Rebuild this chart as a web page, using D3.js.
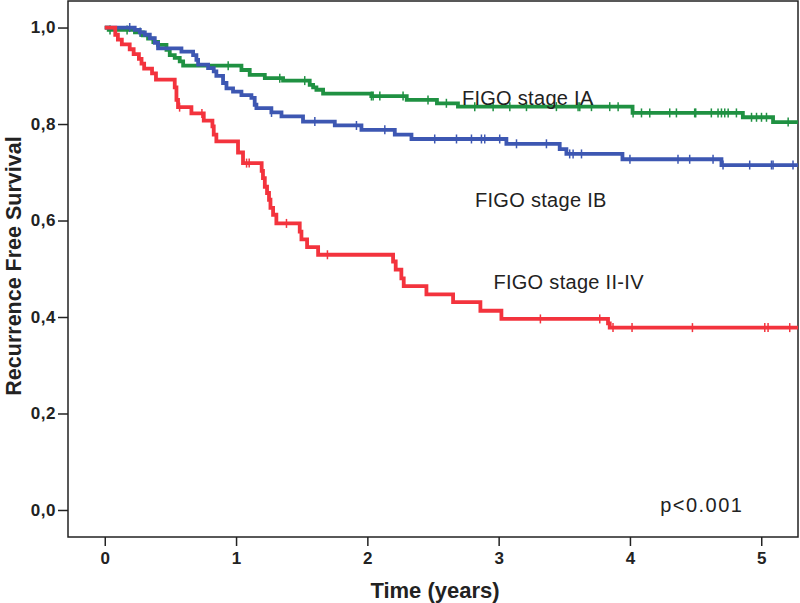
<!DOCTYPE html>
<html><head><meta charset="utf-8">
<script src="https://cdn.jsdelivr.net/npm/d3@7"></script>
<style>
body{margin:0;background:#fff;}
svg{display:block;font-family:"Liberation Sans",Arial,sans-serif;}
</style></head>
<body><svg id="c" width="800" height="603"></svg>
<script>
// ---- data ----
const yTicks = [0, 0.2, 0.4, 0.6, 0.8, 1.0];
const yTickLabels = ["0,0", "0,2", "0,4", "0,6", "0,8", "1,0"];
const xTicks = [0, 1, 2, 3, 4, 5];
const xTickLabels = ["0", "1", "2", "3", "4", "5"];
const endTime = 5.28;

const timesIA = [0, 0.03, 0.23, 0.29, 0.33, 0.37, 0.406, 0.47, 0.495, 0.533, 0.571, 0.597, 1.041, 1.104, 1.219, 1.358, 1.561, 1.587, 1.612, 1.663, 2.03, 2.30, 2.53, 2.69, 4.02, 4.86, 5.09];
const survIA  = [1.0, 0.995, 0.99, 0.984, 0.977, 0.970, 0.964, 0.954, 0.943, 0.937, 0.930, 0.921, 0.912, 0.902, 0.895, 0.890, 0.881, 0.876, 0.871, 0.863, 0.858, 0.850, 0.843, 0.836, 0.823, 0.814, 0.804];
const censIA  = [0.04, 0.17, 0.27, 0.94, 1.333, 1.523, 2.031, 2.044, 2.095, 2.272, 2.462, 2.602, 2.818, 2.958, 3.085, 3.212, 3.44, 3.605, 3.618, 3.707, 3.846, 3.91, 4.024, 4.088, 4.151, 4.303, 4.354, 4.493, 4.501, 4.62, 4.671, 4.697, 4.722, 4.748, 4.811, 4.926, 4.964, 5.002, 5.04, 5.205];

const timesIB = [0, 0.228, 0.267, 0.305, 0.343, 0.381, 0.406, 0.584, 0.673, 0.698, 0.711, 0.787, 0.830, 0.850, 0.901, 0.927, 0.977, 1.041, 1.117, 1.142, 1.155, 1.269, 1.346, 1.510, 1.752, 1.955, 2.209, 2.336, 3.059, 3.465, 3.516, 3.943, 4.697];
const survIB  = [1.0, 0.995, 0.990, 0.985, 0.978, 0.968, 0.957, 0.950, 0.943, 0.933, 0.923, 0.916, 0.909, 0.900, 0.885, 0.874, 0.867, 0.860, 0.854, 0.840, 0.833, 0.824, 0.816, 0.805, 0.797, 0.788, 0.778, 0.769, 0.759, 0.748, 0.738, 0.727, 0.715];
const censIB  = [0.19, 0.27, 1.27, 1.6, 1.917, 2.133, 2.513, 2.679, 2.793, 2.869, 2.894, 3.008, 3.136, 3.364, 3.541, 3.567, 3.631, 4.0, 4.366, 4.455, 4.633, 4.709, 4.912, 5.078, 5.09, 5.242];

const timesII = [0, 0.08, 0.10, 0.13, 0.19, 0.22, 0.26, 0.28, 0.30, 0.36, 0.39, 0.533, 0.546, 0.558, 0.66, 0.754, 0.82, 0.83, 0.85, 1.015, 1.053, 1.195, 1.205, 1.219, 1.236, 1.251, 1.262, 1.282, 1.307, 1.485, 1.498, 1.541, 1.625, 2.196, 2.216, 2.259, 2.277, 2.45, 2.653, 2.861, 3.021, 3.833, 3.846];
const survII  = [1.0, 0.985, 0.975, 0.965, 0.955, 0.945, 0.935, 0.925, 0.915, 0.905, 0.892, 0.876, 0.850, 0.835, 0.822, 0.807, 0.795, 0.778, 0.764, 0.741, 0.719, 0.703, 0.688, 0.670, 0.657, 0.643, 0.626, 0.612, 0.594, 0.577, 0.561, 0.545, 0.529, 0.515, 0.498, 0.480, 0.464, 0.447, 0.431, 0.413, 0.396, 0.387, 0.378];
const censII  = [0.57, 0.74, 1.08, 1.10, 1.384, 1.696, 3.318, 3.77, 3.871, 4.016, 4.476, 5.027, 5.052, 5.217];

const groups = [
  {name: "FIGO stage IA", times: timesIA, surv: survIA, cens: censIA, color: "#1f9142"},
  {name: "FIGO stage IB", times: timesIB, surv: survIB, cens: censIB, color: "#3d57b2"},
  {name: "FIGO stage II-IV", times: timesII, surv: survII, cens: censII, color: "#f3333d"}
];
const labels = [
  {text: "FIGO stage IA", t: 2.72, s: 0.84},
  {text: "FIGO stage IB", t: 2.82, s: 0.627},
  {text: "FIGO stage II-IV", t: 2.96, s: 0.458},
  {text: "p<0.001", t: 4.23, s: -0.004}
];

// ---- layout ----
const svg = d3.select("#c");
const L = 68, R = 798, T = 1, B = 537;
const x = d3.scaleLinear().domain([-0.28, 5.28]).range([L, R]);
const y = d3.scaleLinear().domain([-0.056, 1.055]).range([B, T]);

// frame
svg.append("rect").attr("x", L).attr("y", T).attr("width", R - L).attr("height", B - T)
  .attr("fill", "none").attr("stroke", "#222").attr("stroke-width", 1.5);

// axes
const yAxis = d3.axisLeft(y).tickValues(yTicks).tickSize(10).tickPadding(2)
  .tickFormat((d, i) => yTickLabels[i]);
const gy = svg.append("g").attr("transform", `translate(${L},0)`).call(yAxis);
gy.select(".domain").remove();
gy.selectAll(".tick line").attr("stroke", "#222").attr("stroke-width", 1.5);
gy.selectAll(".tick text").attr("font-size", 17).attr("font-weight", "bold")
  .attr("fill", "#222").attr("font-family", "Liberation Sans, Arial, sans-serif").attr("letter-spacing", 0.5);

const xAxis = d3.axisBottom(x).tickValues(xTicks).tickSize(9).tickPadding(6)
  .tickFormat((d, i) => xTickLabels[i]);
const gx = svg.append("g").attr("transform", `translate(0,${B})`).call(xAxis);
gx.select(".domain").remove();
gx.selectAll(".tick line").attr("stroke", "#222").attr("stroke-width", 1.5);
gx.selectAll(".tick text").attr("font-size", 17).attr("font-weight", "bold")
  .attr("fill", "#222").attr("font-family", "Liberation Sans, Arial, sans-serif");

// axis titles
svg.append("text").attr("x", 435).attr("y", 598).attr("text-anchor", "middle")
  .attr("font-size", 22).attr("font-weight", "bold").attr("fill", "#222").text("Time (years)");
svg.append("text").attr("transform", "translate(21,266) rotate(-90)").attr("text-anchor", "middle")
  .attr("font-size", 21.5).attr("font-weight", "bold").attr("fill", "#222").text("Recurrence Free Survival");

// curves
const line = d3.line().x(d => x(d[0])).y(d => y(d[1])).curve(d3.curveStepAfter);
function survAt(g, t) {
  let s = g.surv[0];
  for (let i = 0; i < g.times.length; i++) { if (g.times[i] <= t) s = g.surv[i]; }
  return s;
}
const plot = svg.append("g");
groups.forEach(g => {
  const pts = g.times.map((t, i) => [t, g.surv[i]]);
  pts.push([endTime, g.surv[g.surv.length - 1]]);
  plot.append("path").attr("d", line(pts)).attr("fill", "none")
    .attr("stroke", g.color).attr("stroke-width", 3.8);
  plot.selectAll(null).data(g.cens).enter().append("line")
    .attr("x1", d => x(d)).attr("x2", d => x(d))
    .attr("y1", d => y(survAt(g, d)) - 4.5).attr("y2", d => y(survAt(g, d)) + 4.5)
    .attr("stroke", g.color).attr("stroke-width", 1.5);
});

// labels
svg.selectAll(".lbl").data(labels).enter().append("text")
  .attr("x", d => x(d.t)).attr("y", d => y(d.s))
  .attr("font-size", 20).attr("fill", "#222")
  .attr("letter-spacing", d => d.text.startsWith("p") ? 1.5 : 0.3)
  .text(d => d.text);
</script></body></html>
